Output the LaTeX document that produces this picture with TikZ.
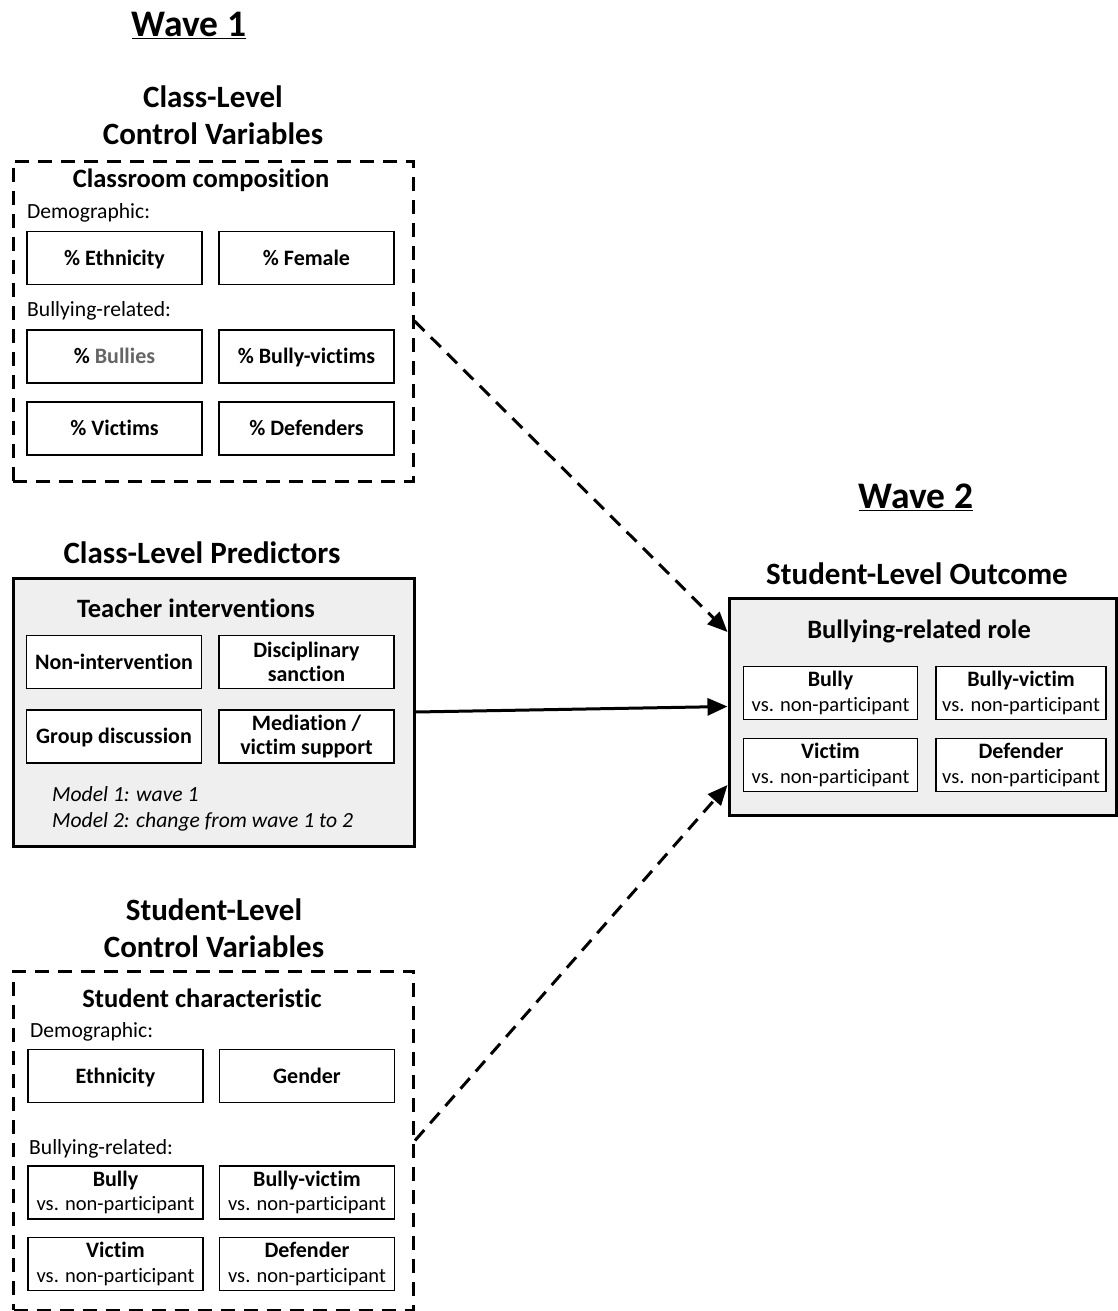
\documentclass[tikz,border=0pt]{standalone}
\usepackage{fontspec}
\setmainfont{Carlito}[Ligatures=CommonOff]
\usetikzlibrary{arrows.meta}
\definecolor{panelgray}{HTML}{EFEFEF}
\newcommand{\vsnp}{{\mdseries\fontsize{20.5}{24}\selectfont vs. non-participant}}
\tikzset{
  itembox/.style={draw, line width=1.7pt, fill=white, minimum width=175pt, minimum height=53pt, inner sep=0pt, align=center, font=\fontsize{22}{24.5}\selectfont\bfseries},
  oneline/.style={itembox, text height=17pt, text depth=3pt},
  ctrlbox/.style={draw, line width=3pt, dash pattern=on 14pt off 9pt, minimum width=400pt, inner sep=0pt},
  predbox/.style={draw, line width=3pt, fill=panelgray, inner sep=0pt},
  heading/.style={font=\fontsize{31}{37}\selectfont\bfseries, align=center},
  subhead/.style={font=\fontsize{26.5}{30}\selectfont\bfseries},
  lbl/.style={font=\fontsize{21.6}{26}\selectfont, anchor=west, inner sep=0pt},
  wave/.style={font=\fontsize{37.5}{40}\selectfont\bfseries},
  link/.style={line width=3pt, -{Triangle[length=20pt,width=17pt]}},
  dashlink/.style={link, dash pattern=on 14pt off 9pt},
}
\begin{document}
\begin{tikzpicture}[x=1pt,y=-1pt]
\useasboundingbox (0,0) rectangle (1118,1311);
% wave 1
\node[wave] (wave1) at (189,25) {\underline{Wave 1}};
\node[heading] (classtitle) at (213,115.5) {Class-Level\\Control Variables};
\node[ctrlbox, minimum height=320pt] (classctrl) at (213,321) {};
\node[subhead] (classhead) at (201,180) {Classroom composition};
\node[lbl] (demo1) at (27,213) {Demographic:};
\node[oneline] (ethpct) at (114.5,258) {\% Ethnicity};
\node[oneline] (fempct) at (306.5,258) {\% Female};
\node[lbl] (bull1) at (27,311) {Bullying-related:};
\node[oneline] (bullypct) at (114.5,356.5) {\% {\color{black!60}Bullies}};
\node[oneline] (bvpct) at (306.5,356.5) {\% Bully-victims};
\node[oneline] (victpct) at (114.5,428.5) {\% Victims};
\node[oneline] (defpct) at (306.5,428.5) {\% Defenders};
% predictors
\node[heading] (predtitle) at (202,553) {Class-Level Predictors};
\node[predbox, minimum width=401pt, minimum height=268pt] (pred) at (213.5,712) {};
\node[subhead] (predhead) at (196,608) {Teacher interventions};
\node[oneline] (nonint) at (114,662) {Non-intervention};
\node[itembox] (discip) at (306.5,662) {Disciplinary\\sanction};
\node[oneline] (groupdisc) at (114,736.5) {Group discussion};
\node[itembox] (mediat) at (306.5,736.5) {Mediation /\\victim support};
\node[lbl, align=left] (models) at (52,809) {\itshape Model 1: wave 1\\\itshape Model 2: change from wave 1 to 2};
% wave 2
\node[wave] (wave2) at (916,497) {\underline{Wave 2}};
\node[heading] (outtitle) at (917,574) {Student-Level Outcome};
\node[predbox, minimum width=387pt, minimum height=217pt] (outcome) at (922.5,706.5) {};
\node[subhead] (outhead) at (919,631) {Bullying-related role};
\node[itembox, minimum width=174pt] (outbully) at (830.5,693) {Bully\\\vsnp};
\node[itembox, minimum width=170pt] (outbv) at (1021,693) {Bully-victim\\\vsnp};
\node[itembox, minimum width=174pt] (outvict) at (830.5,765) {Victim\\\vsnp};
\node[itembox, minimum width=170pt] (outdef) at (1021,765) {Defender\\\vsnp};
% student controls
\node[heading] (studtitle) at (214,928.5) {Student-Level\\Control Variables};
\node[ctrlbox, minimum height=339pt] (studctrl) at (213.5,1140.5) {};
\node[subhead] (studhead) at (202,998) {Student characteristic};
\node[lbl] (demo2) at (30,1032) {Demographic:};
\node[oneline] (eth) at (115.5,1076) {Ethnicity};
\node[oneline] (gend) at (307,1076) {Gender};
\node[lbl] (bull2) at (29,1149) {Bullying-related:};
\node[itembox] (stbully) at (115.5,1192.5) {Bully\\\vsnp};
\node[itembox] (stbv) at (307,1192.5) {Bully-victim\\\vsnp};
\node[itembox] (stvict) at (115.5,1264) {Victim\\\vsnp};
\node[itembox] (stdef) at (307,1264) {Defender\\\vsnp};
% paths
\draw[dashlink] (classctrl.east) -- ([yshift=74.5pt]outcome.west);
\draw[link] (pred.east) -- (outcome.west);
\draw[dashlink] (studctrl.east) -- ([yshift=-78.5pt]outcome.west);
\end{tikzpicture}
\end{document}
